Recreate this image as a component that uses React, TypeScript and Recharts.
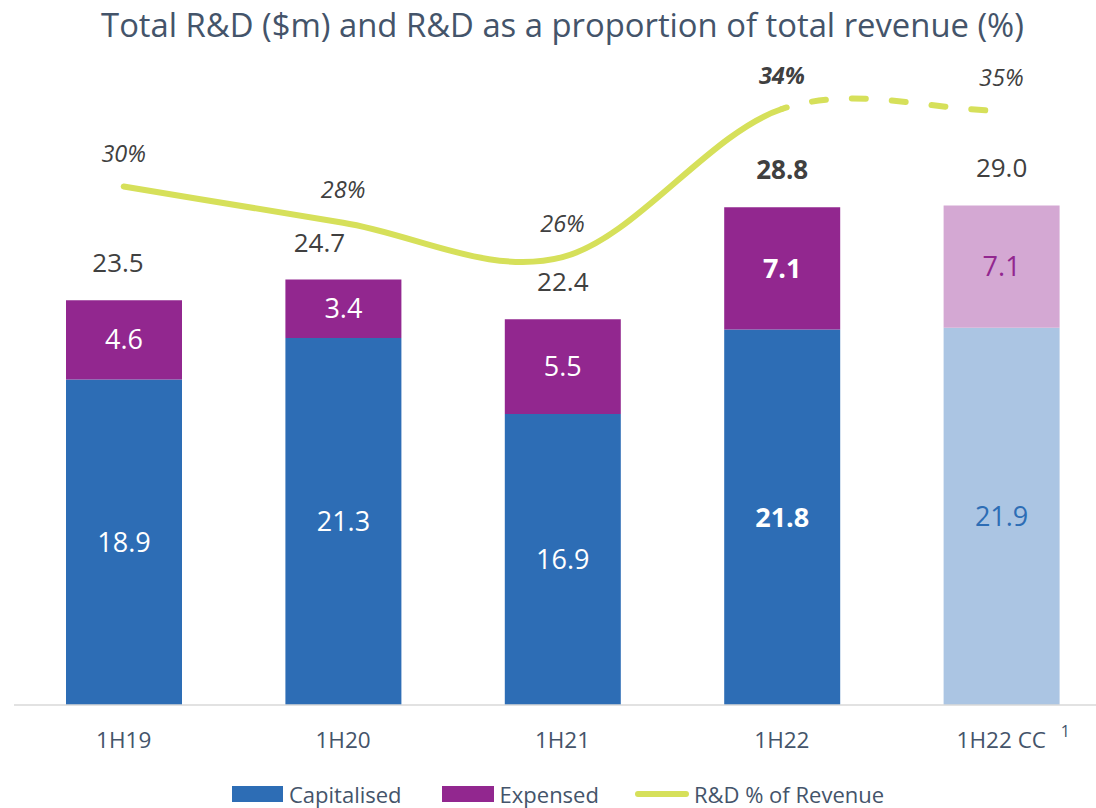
import React from "react";
import {
  ComposedChart,
  Bar,
  Line,
  Cell,
  XAxis,
  YAxis,
  LabelList,
} from "recharts";

// values
const periods = ["1H19", "1H20", "1H21", "1H22", "1H22 CC"];
const capitalised = [18.9, 21.3, 16.9, 21.8, 21.9];
const expensed = [4.6, 3.4, 5.5, 7.1, 7.1];
const totals = [23.5, 24.7, 22.4, 28.8, 29.0];
const rdPct = [30.1, 28.0, 26.0, 34.6, 34.5];
const pctLabels = ["30%", "28%", "26%", "34%", "35%"];

const BLUE = "#2D6DB5";
const PURPLE = "#92278F";
const LIGHT_BLUE = "#ABC5E3";
const LIGHT_PURPLE = "#D4A8D3";
const LINE_COLOR = "#D6E05A";
const TEXT = "#404040";
const SLATE = "#44546A";
const FONT = "'Open Sans', sans-serif";

const HIGHLIGHT = 3; // 1H22 shown in bold
const CC = 4; // constant currency column, lighter colours

// total labels on the first two columns sit a little left (clear of the line)
const TOTAL_NUDGE = [-6, -24, 0, 0, 0];

const data = periods.map((p, i) => ({
  period: p,
  i,
  cap: capitalised[i],
  exp: expensed[i],
  pct: rdPct[i],
}));

// Excel-style smoothed line (Catmull-Rom through every point), but only the
// segments from..to are drawn, so one series can be solid and the tail dashed
// while the curve stays continuous.
const smoothSegments = (from: number, to: number) => (context: any) => {
  let pts: number[][] = [];
  return {
    areaStart() {},
    areaEnd() {},
    lineStart() {
      pts = [];
    },
    point(x: number, y: number) {
      pts.push([+x, +y]);
    },
    lineEnd() {
      const n = pts.length;
      const tan = (i: number) => {
        const a = pts[Math.max(i - 1, 0)];
        const b = pts[Math.min(i + 1, n - 1)];
        const k = i === 0 || i === n - 1 ? 1 : 0.5;
        return [(b[0] - a[0]) * k, (b[1] - a[1]) * k];
      };
      for (let i = from; i < to && i < n - 1; i++) {
        const p = pts[i];
        const q = pts[i + 1];
        const tp = tan(i);
        const tq = tan(i + 1);
        if (i === from) context.moveTo(p[0], p[1]);
        context.bezierCurveTo(
          p[0] + tp[0] / 3,
          p[1] + tp[1] / 3,
          q[0] - tq[0] / 3,
          q[1] - tq[1] / 3,
          q[0],
          q[1]
        );
      }
    },
  };
};

const segmentLabel = (arr: number[], ccColor: string) => (props: any) => {
  const { x, y, width, height, value } = props;
  const i = value as number;
  return (
    <text
      x={x + width / 2}
      y={y + height / 2 + 9.5}
      textAnchor="middle"
      fontFamily={FONT}
      fontSize={27}
      fontWeight={i === HIGHLIGHT ? 700 : 400}
      fill={i === CC ? ccColor : "#FFFFFF"}
    >
      {arr[i].toFixed(1)}
    </text>
  );
};

const totalLabel = (props: any) => {
  const { x, y, width, value } = props;
  const i = value as number;
  return (
    <text
      x={x + width / 2 + TOTAL_NUDGE[i]}
      y={y - 28}
      textAnchor="middle"
      fontFamily={FONT}
      fontSize={26}
      fontWeight={i === HIGHLIGHT ? 700 : 400}
      fill={TEXT}
    >
      {totals[i].toFixed(1)}
    </text>
  );
};

const pctLabel = (props: any) => {
  const { x, y, value } = props;
  const i = value as number;
  if (y == null) return null;
  return (
    <text
      x={x}
      y={y - 25}
      textAnchor="middle"
      fontFamily={FONT}
      fontSize={23.5}
      fontStyle="italic"
      fontWeight={i === HIGHLIGHT ? 700 : 400}
      fill={TEXT}
    >
      {pctLabels[i]}
    </text>
  );
};

const PeriodTick = (props: any) => {
  const { x, y, payload, index } = props;
  return (
    <g>
      <text x={x} y={y + 35} textAnchor="middle" fontFamily={FONT} fontSize={22.5} fill={SLATE}>
        {payload.value}
      </text>
      {index === CC && (
        <text x={x + 64} y={y + 24} textAnchor="middle" fontFamily={FONT} fontSize={16} fill={SLATE}>
          1
        </text>
      )}
    </g>
  );
};

const legendText = { fontFamily: FONT, fontSize: 22, color: SLATE, lineHeight: "24px" };

export default function App() {
  return (
    <div
      style={{
        position: "absolute",
        top: 0,
        left: 0,
        width: 1096,
        height: 808,
        overflow: "hidden",
        background: "#fff",
      }}
    >
      <div
        style={{
          position: "absolute",
          top: 5,
          left: 0,
          width: 1125,
          textAlign: "center",
          fontFamily: FONT,
          fontSize: 32.8,
          lineHeight: "40px",
          color: SLATE,
        }}
      >
        Total R&amp;D ($m) and R&amp;D as a proportion of total revenue (%)
      </div>

      <ComposedChart
        width={1125}
        height={808}
        data={data}
        margin={{ top: 16, right: 14, bottom: 63, left: 14 }}
      >
        <XAxis
          dataKey="period"
          height={40}
          tickLine={false}
          axisLine={{ stroke: "#D9D9D9", strokeWidth: 1.5 }}
          tick={<PeriodTick />}
          interval={0}
        />
        <YAxis hide domain={[0, 40]} />
        <Bar dataKey="cap" stackId="rd" barSize={116} isAnimationActive={false}>
          {data.map((_, i) => (
            <Cell key={i} fill={i === CC ? LIGHT_BLUE : BLUE} />
          ))}
          <LabelList dataKey="i" content={segmentLabel(capitalised, BLUE)} />
        </Bar>
        <Bar dataKey="exp" stackId="rd" barSize={116} isAnimationActive={false}>
          {data.map((_, i) => (
            <Cell key={i} fill={i === CC ? LIGHT_PURPLE : PURPLE} />
          ))}
          <LabelList dataKey="i" content={segmentLabel(expensed, PURPLE)} />
          <LabelList dataKey="i" content={totalLabel} />
        </Bar>
        <Line
          dataKey="pct"
          type={smoothSegments(0, HIGHLIGHT) as any}
          stroke={LINE_COLOR}
          strokeWidth={6}
          strokeLinecap="round"
          dot={false}
          activeDot={false}
          isAnimationActive={false}
        >
          <LabelList dataKey="i" content={pctLabel} />
        </Line>
        <Line
          dataKey="pct"
          type={smoothSegments(HIGHLIGHT, CC) as any}
          stroke={LINE_COLOR}
          strokeWidth={6}
          strokeLinecap="round"
          strokeDasharray="14 26"
          strokeDashoffset={9}
          dot={false}
          activeDot={false}
          legendType="none"
          isAnimationActive={false}
        />
      </ComposedChart>

      {/* Legend */}
      <div
        style={{
          position: "absolute",
          top: 782,
          left: 232,
          height: 24,
          display: "flex",
          alignItems: "center",
          ...legendText,
        }}
      >
        <span style={{ width: 51, height: 16, background: BLUE, marginRight: 6 }} />
        <span style={{ marginRight: 40 }}>Capitalised</span>
        <span style={{ width: 52, height: 16, background: PURPLE, marginRight: 6 }} />
        <span style={{ marginRight: 36 }}>Expensed</span>
        <span
          style={{
            width: 54,
            height: 6,
            borderRadius: 3,
            background: LINE_COLOR,
            marginRight: 5,
          }}
        />
        <span>R&amp;D % of Revenue</span>
      </div>
    </div>
  );
}
